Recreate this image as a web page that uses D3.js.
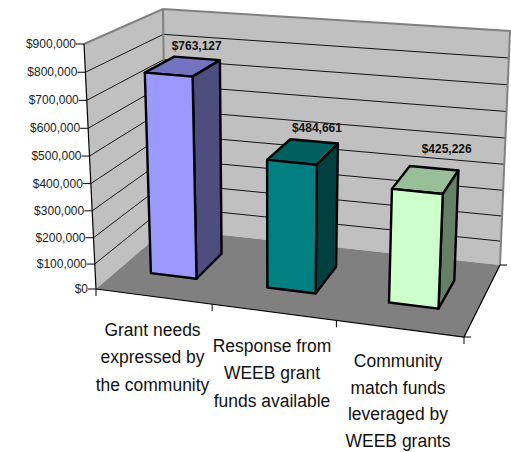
<!DOCTYPE html>
<html lang="en">
<head>
  <meta charset="UTF-8">
  <title>WEEB grants</title>
  <script src="https://d3js.org/d3.v7.min.js"></script>
  <style>
    body { margin: 0; background: #fff; }
    svg { display: block; }
    text { font-family: 'Liberation Sans', Arial, sans-serif; fill: #000; }
    .tick-label { font-size: 12px; fill: #222; }
    .value-label { font-size: 12px; font-weight: bold; fill: #111; }
    .cat-label { font-size: 19px; fill: #111; }
  </style>
</head>
<body>
  <svg width="511" height="452"></svg>
  <script>
    const categories = ["Grant needs expressed by the community", "Response from WEEB grant funds available", "Community match funds leveraged by WEEB grants"];
    const values = [763127, 484661, 425226];
    const frontColors = ["#9999ff", "#008080", "#ccffcc"];
    const topColors = ["#7373bf", "#006060", "#99bf99"];
    const sideColors = ["#4d4d80", "#004040", "#668066"];
    const categoryLines = [
      ["Grant needs", "expressed by", "the community"],
      ["Response from", "WEEB grant", "funds available"],
      ["Community", "match funds", "leveraged by", "WEEB grants"]
    ];

    const svg = d3.select("svg");

    // the box corners on screen: [x,y] by along / depth / up
    const corners = {
      "000": [96, 289], "100": [464, 337], "010": [166, 229], "110": [500, 265],
      "001": [84, 44], "101": [476, 77], "011": [163, 9], "111": [510, 31]
    };

    // pow scales fake the perspective squeeze
    const y = d3.scalePow().exponent(1.04).domain([0, 900000]).range([0, 1]);
    const warp = d3.scalePow().exponent(1.05).domain([0, 1]).range([0, 1]);
    const x = d3.scaleBand().domain(categories).range([0, 1]).paddingInner(0.6).paddingOuter(0.3);

    function project(u, d, v) {
      const out = [0, 0];
      [0, 1].forEach(a => [0, 1].forEach(b => [0, 1].forEach(c => {
        const w = (a ? u : 1 - u) * (b ? d : 1 - d) * (c ? v : 1 - v);
        const p = corners["" + a + b + c];
        out[0] += w * p[0];
        out[1] += w * p[1];
      })));
      return out;
    }

    const poly = pts => "M" + pts.map(p => p.join(",")).join("L") + "Z";
    const seg = (a, b) => "M" + a.join(",") + "L" + b.join(",");

    // walls
    svg.append("path").attr("d", poly([project(0,0,0), project(0,1,0), project(0,1,1), project(0,0,1)])).attr("fill", "#c0c0c0");
    svg.append("path").attr("d", poly([project(0,1,0), project(1,1,0), project(1,1,1), project(0,1,1)])).attr("fill", "#c0c0c0");
    // floor
    svg.append("path").attr("d", poly([project(0,0,0), project(1,0,0), project(1,1,0), project(0,1,0)])).attr("fill", "#808080");

    // gridlines
    const ticks = y.ticks(9);
    ticks.filter(t => t > 0 && t < 900000).forEach(t => {
      const v = y(t);
      svg.append("path").attr("d", seg(project(0,0,v), project(0,1,v)) + seg(project(0,1,v), project(1,1,v)))
        .attr("fill", "none").attr("stroke", "#000").attr("stroke-width", 0.9);
    });

    // grey wall outline
    svg.append("path")
      .attr("d", seg(project(0,0,1), project(0,1,1)) + "L" + project(1,1,1).join(",") + "L" + project(1,1,0).join(",") + seg(project(0,1,1), project(0,1,0)))
      .attr("fill", "none").attr("stroke", "#808080").attr("stroke-width", 2);

    // value axis
    svg.append("path").attr("d", seg(project(0,0,0), project(0,0,1))).attr("stroke", "#000").attr("stroke-width", 1.2);
    ticks.forEach(t => {
      const p = project(0, 0, y(t));
      svg.append("path").attr("d", seg([p[0] - 8, p[1]], p)).attr("stroke", "#000").attr("stroke-width", 1);
      svg.append("text").attr("class", "tick-label")
        .attr("x", p[0] - 8).attr("y", p[1] + 4).attr("text-anchor", "end")
        .text(d3.format("$,")(t));
    });

    // floor edges and tick marks
    svg.append("path").attr("d", seg(project(0,0,0), project(1,0,0)) + "L" + project(1,1,0).join(","))
      .attr("fill", "none").attr("stroke", "#000").attr("stroke-width", 1.2);
    [0, 1 / 3, 2 / 3, 1].forEach(f => {
      const p = project(warp(f), 0, 0);
      svg.append("path").attr("d", seg(p, [p[0], p[1] + 7])).attr("stroke", "#000").attr("stroke-width", 1);
    });
    [0, 1].forEach(d => {
      const p = project(1, d, 0);
      svg.append("path").attr("d", seg(p, [p[0] + 7, p[1]])).attr("stroke", "#000").attr("stroke-width", 1);
    });

    // bars
    const d0 = 0.33, d1 = 0.73;
    categories.forEach((c, i) => {
      const u0 = warp(x(c)), u1 = warp(x(c) + x.bandwidth()), v = y(values[i]);
      const faces = [
        [topColors[i], [project(u0,d0,v), project(u1,d0,v), project(u1,d1,v), project(u0,d1,v)]],
        [sideColors[i], [project(u1,d0,0), project(u1,d1,0), project(u1,d1,v), project(u1,d0,v)]],
        [frontColors[i], [project(u0,d0,0), project(u1,d0,0), project(u1,d0,v), project(u0,d0,v)]]
      ];
      svg.append("g").selectAll("path").data(faces).join("path")
        .attr("d", f => poly(f[1])).attr("fill", f => f[0])
        .attr("stroke", "#000").attr("stroke-width", 2.4).attr("stroke-linejoin", "round");
    });

    // value labels sit a bit off each bar's top
    const labelShift = [[14, -20], [14, -24], [21, -31]];
    categories.forEach((c, i) => {
      const v = y(values[i]);
      const um = warp(x(c) + x.bandwidth() / 2);
      const p = project(um, (d0 + d1) / 2, v);
      svg.append("text").attr("class", "value-label")
        .attr("x", p[0] + labelShift[i][0]).attr("y", p[1] + labelShift[i][1] + 4)
        .attr("text-anchor", "middle").text(d3.format("$,")(values[i]));
    });

    // category labels, squeezed a little like the original's narrow rendering
    const catX = [152.5, 272, 398];
    const catY = [336, 352, 367];
    const catStep = [27.4, 27.4, 26.6];
    categoryLines.forEach((lines, i) => {
      const t = svg.append("text").attr("class", "cat-label").attr("text-anchor", "middle")
        .attr("transform", `translate(${catX[i]},0) scale(0.92,1)`);
      lines.forEach((l, j) => t.append("tspan").attr("x", 0).attr("y", catY[i] + j * catStep[i]).text(l));
    });
  </script>
</body>
</html>
